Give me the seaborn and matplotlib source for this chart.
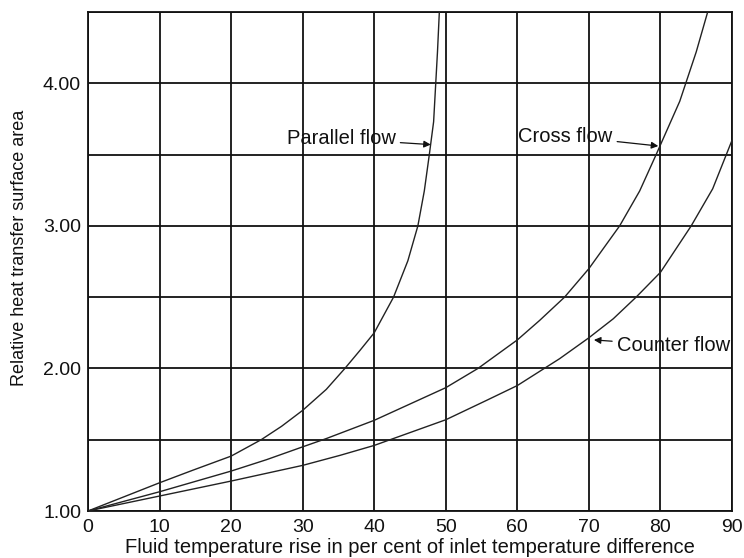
import numpy as np
import pandas as pd
import matplotlib
matplotlib.use("Agg")
import matplotlib.pyplot as plt
import seaborn as sns

# ---- data ----
parallel_x = [0, 10, 14.7, 20, 24.2, 27.05, 30, 33.3, 35.9, 38, 40, 42.7, 44.7,
              46.1, 47.0, 47.7, 48.3, 48.84, 49.1]
parallel_y = [1.00, 1.198, 1.287, 1.385, 1.50, 1.594, 1.706, 1.853, 2.00, 2.126,
              2.25, 2.50, 2.755, 3.00, 3.245, 3.50, 3.73, 4.22, 4.50]

cross_x = [0, 10, 20, 24.95, 30, 33.3, 40, 50, 54.5, 60, 63.1, 66.6, 70, 74.3,
           77.1, 79.4, 82.7, 85.0, 86.6]
cross_y = [1.00, 1.135, 1.28, 1.36, 1.45, 1.508, 1.636, 1.865, 2.00, 2.20, 2.336,
           2.50, 2.70, 3.00, 3.245, 3.50, 3.874, 4.22, 4.50]

counter_x = [0, 10, 20, 30, 35.2, 40, 50, 55.7, 60, 65.9, 70, 73.4, 76.6, 80,
             84.3, 87.3, 90]
counter_y = [1.00, 1.105, 1.21, 1.32, 1.39, 1.46, 1.64, 1.776, 1.88, 2.068, 2.215,
             2.348, 2.50, 2.674, 3.00, 3.26, 3.60]

x_ticks = [0, 10, 20, 30, 40, 50, 60, 70, 80, 90]
y_ticks = [1.0, 1.5, 2.0, 2.5, 3.0, 3.5, 4.0, 4.5]
y_tick_labels = ["1.00", "", "2.00", "", "3.00", "", "4.00", ""]

labels = ["Parallel flow", "Cross flow", "Counter flow"]
# annotation: (text x, text y, arrow tip x, arrow tip y)
parallel_note = (43.0, 3.61, 47.9, 3.57)
cross_note = (73.3, 3.63, 79.7, 3.56)
counter_note = (73.9, 2.16, 70.7, 2.20)

df = pd.concat([
    pd.DataFrame({"x": parallel_x, "y": parallel_y, "flow": labels[0]}),
    pd.DataFrame({"x": cross_x, "y": cross_y, "flow": labels[1]}),
    pd.DataFrame({"x": counter_x, "y": counter_y, "flow": labels[2]}),
])

sns.set_style("white")
plt.rcParams["font.family"] = ["Liberation Sans", "DejaVu Sans"]

fig = plt.figure(figsize=(7.44, 5.58), dpi=100)
ax = fig.add_axes([88 / 744, 1 - 511 / 558, 644 / 744, 499 / 558])

sns.lineplot(data=df, x="x", y="y", hue="flow", units="flow", estimator=None,
             sort=False, palette=["#222222"] * 3, legend=False, lw=1.0, ax=ax,
             zorder=3)
for ln in ax.get_lines():
    ln.set_solid_joinstyle("round")

ax.set_xlim(0, 90)
ax.set_ylim(1.0, 4.5)
ax.set_xticks(x_ticks)
ax.set_xticklabels([str(t) for t in x_ticks])
ax.set_yticks(y_ticks)
ax.set_yticklabels(y_tick_labels)
ax.grid(True, color="#111111", lw=1.3)
ax.set_axisbelow(True)
for s in ax.spines.values():
    s.set_color("#111111")
    s.set_linewidth(1.3)
ax.tick_params(axis="both", length=0, labelsize=14, colors="#111111")
ax.tick_params(axis="x", pad=6)
ax.tick_params(axis="y", pad=5)

ax.set_xlabel("Fluid temperature rise in per cent of inlet temperature difference",
              fontsize=14.5, color="#111111", labelpad=1)
ax.set_ylabel("Relative heat transfer surface area", fontsize=13, color="#111111")
ax.yaxis.set_label_coords(-0.093, 0.528)

arrow = dict(arrowstyle="-|>", lw=0.9, color="#111111", mutation_scale=10,
             shrinkA=1, shrinkB=0)
for name, (tx, ty, ax_, ay), ha in [(labels[0], parallel_note, "right"),
                                    (labels[1], cross_note, "right"),
                                    (labels[2], counter_note, "left")]:
    ax.annotate(name, xy=(ax_, ay), xytext=(tx, ty), ha=ha, va="center",
                fontsize=14.5, color="#111111", arrowprops=arrow, zorder=4)

fig.savefig("out.png", dpi=100)
